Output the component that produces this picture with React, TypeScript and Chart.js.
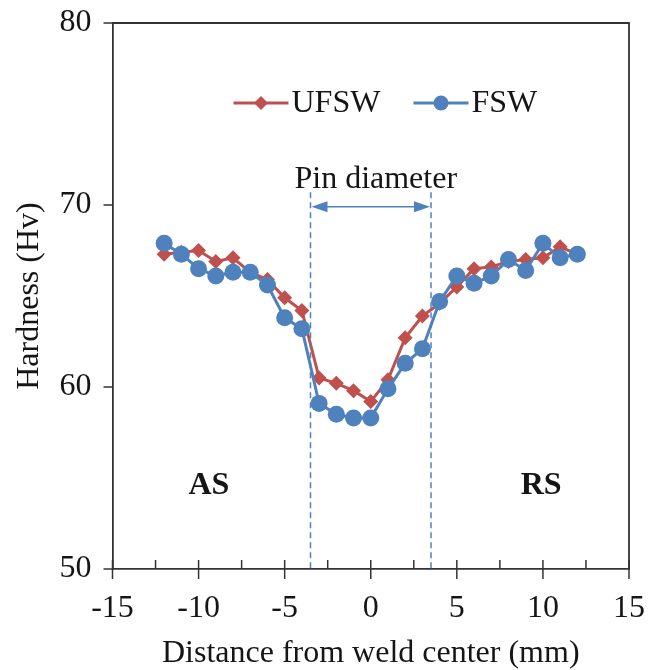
import React, { useEffect, useRef } from "react";
import { Chart, registerables } from "chart.js";

Chart.register(...registerables);

const distances = [-12, -11, -10, -9, -8, -7, -6, -5, -4, -3, -2, -1, 0, 1, 2, 3, 4, 5, 6, 7, 8, 9, 10, 11, 12];
const ufswHardness = [67.3, 67.4, 67.5, 66.9, 67.1, 66.3, 65.9, 64.9, 64.2, 60.5, 60.2, 59.8, 59.2, 60.4, 62.7, 63.9, 64.6, 65.5, 66.5, 66.6, 66.9, 67.0, 67.1, 67.7, 67.3];
const fswHardness = [67.9, 67.3, 66.5, 66.1, 66.3, 66.3, 65.6, 63.8, 63.2, 59.1, 58.5, 58.3, 58.3, 59.9, 61.3, 62.1, 64.7, 66.1, 65.7, 66.1, 67.0, 66.4, 67.9, 67.1, 67.3];
const xMajorTicks = [-15, -10, -5, 0, 5, 10, 15];
const xMinorTicks = [-12.5, -7.5, -2.5, 2.5, 7.5, 12.5];
const yTicks = [50, 60, 70, 80];
const pinEdges = [-3.5, 3.5];
const pinLineTop = 70.7;
const pinArrowY = 69.9;
const seriesNames = ["UFSW", "FSW"];
const regionLabels = [{ text: "AS", x: -9.4, y: 54.6 }, { text: "RS", x: 9.9, y: 54.6 }];

const RED = "#C0504D";
const BLUE = "#4F81BD";
const AXIS = "#333333";
const TEXT = "#151515";
const FONT = "'Liberation Serif', 'Times New Roman', serif";
const FS = 32;

const overlayPlugin = {
  id: "overlay",
  afterDraw(chart: any) {
    const ctx = chart.ctx as CanvasRenderingContext2D;
    const area = chart.chartArea;
    const xs = chart.scales.x;
    const ys = chart.scales.y;
    ctx.save();
    ctx.strokeStyle = AXIS;
    ctx.lineWidth = 1.8;
    ctx.beginPath();
    ctx.moveTo(area.left, area.top);
    ctx.lineTo(area.right, area.top);
    ctx.lineTo(area.right, area.bottom);
    ctx.stroke();
    ctx.lineWidth = 1.5;
    for (const v of xMajorTicks) {
      const px = xs.getPixelForValue(v);
      ctx.beginPath();
      ctx.moveTo(px, area.bottom - 9);
      ctx.lineTo(px, area.bottom + 10);
      ctx.stroke();
    }
    for (const v of xMinorTicks) {
      const px = xs.getPixelForValue(v);
      ctx.beginPath();
      ctx.moveTo(px, area.bottom - 9);
      ctx.lineTo(px, area.bottom);
      ctx.stroke();
    }
    for (const v of yTicks) {
      const py = ys.getPixelForValue(v);
      ctx.beginPath();
      ctx.moveTo(area.left - 9, py);
      ctx.lineTo(area.left, py);
      ctx.stroke();
    }
    ctx.strokeStyle = BLUE;
    ctx.lineWidth = 1.5;
    ctx.setLineDash([6, 4]);
    const topPy = ys.getPixelForValue(pinLineTop);
    for (const v of pinEdges) {
      const px = xs.getPixelForValue(v);
      ctx.beginPath();
      ctx.moveTo(px, topPy);
      ctx.lineTo(px, area.bottom);
      ctx.stroke();
    }
    ctx.setLineDash([]);
    const ax1 = xs.getPixelForValue(pinEdges[0]) + 1;
    const ax2 = xs.getPixelForValue(pinEdges[1]) - 1;
    const ay = ys.getPixelForValue(pinArrowY);
    ctx.beginPath();
    ctx.moveTo(ax1 + 10, ay);
    ctx.lineTo(ax2 - 10, ay);
    ctx.stroke();
    ctx.fillStyle = BLUE;
    ctx.beginPath();
    ctx.moveTo(ax1, ay);
    ctx.lineTo(ax1 + 16, ay - 5.5);
    ctx.lineTo(ax1 + 16, ay + 5.5);
    ctx.closePath();
    ctx.fill();
    ctx.beginPath();
    ctx.moveTo(ax2, ay);
    ctx.lineTo(ax2 - 16, ay - 5.5);
    ctx.lineTo(ax2 - 16, ay + 5.5);
    ctx.closePath();
    ctx.fill();
    ctx.fillStyle = TEXT;
    ctx.font = `${FS}px ${FONT}`;
    ctx.textAlign = "center";
    ctx.textBaseline = "middle";
    ctx.fillText("Pin diameter", (ax1 + ax2) / 2 + 5, ay - 27);
    ctx.font = `bold ${FS}px ${FONT}`;
    for (const r of regionLabels) {
      ctx.fillText(r.text, xs.getPixelForValue(r.x), ys.getPixelForValue(r.y));
    }
    const ly = area.top + 80;
    const items = [
      { name: seriesNames[0], color: RED, x0: area.left + 121, marker: "diamond" },
      { name: seriesNames[1], color: BLUE, x0: area.left + 301, marker: "circle" },
    ];
    for (const it of items) {
      ctx.strokeStyle = it.color;
      ctx.fillStyle = it.color;
      ctx.lineWidth = 3;
      ctx.beginPath();
      ctx.moveTo(it.x0, ly);
      ctx.lineTo(it.x0 + 55, ly);
      ctx.stroke();
      const cx = it.x0 + 27.5;
      ctx.beginPath();
      if (it.marker === "diamond") {
        ctx.moveTo(cx, ly - 7);
        ctx.lineTo(cx + 7, ly);
        ctx.lineTo(cx, ly + 7);
        ctx.lineTo(cx - 7, ly);
        ctx.closePath();
      } else {
        ctx.arc(cx, ly, 7.5, 0, Math.PI * 2);
      }
      ctx.fill();
      ctx.fillStyle = TEXT;
      ctx.font = `${FS}px ${FONT}`;
      ctx.textAlign = "left";
      ctx.textBaseline = "middle";
      ctx.fillText(it.name, it.x0 + 58, ly + 1);
    }
    ctx.restore();
  },
};

export default function App() {
  const ref = useRef<HTMLCanvasElement | null>(null);
  useEffect(() => {
    if (!ref.current) return;
    const chart = new Chart(ref.current, {
      type: "line",
      data: {
        datasets: [
          {
            label: seriesNames[0],
            data: distances.map((x, i) => ({ x, y: ufswHardness[i] })),
            borderColor: RED,
            backgroundColor: RED,
            borderWidth: 3,
            pointStyle: "rectRot",
            pointRadius: 7.5,
            pointBorderWidth: 0,
            order: 2,
            tension: 0,
          },
          {
            label: seriesNames[1],
            data: distances.map((x, i) => ({ x, y: fswHardness[i] })),
            borderColor: BLUE,
            backgroundColor: BLUE,
            borderWidth: 3,
            pointStyle: "circle",
            pointRadius: 8.5,
            pointBorderWidth: 0,
            order: 1,
            tension: 0,
          },
        ],
      },
      options: {
        animation: false,
        responsive: false,
        layout: { padding: { top: 23, right: 28, left: 0, bottom: 0 } },
        plugins: { legend: { display: false }, tooltip: { enabled: false } },
        scales: {
          x: {
            type: "linear",
            min: -15,
            max: 15,
            grid: { display: false },
            border: { display: true, color: AXIS, width: 1.8 },
            afterBuildTicks: (s: any) => {
              s.ticks = xMajorTicks.map((v) => ({ value: v }));
            },
            afterFit: (s: any) => {
              s.height = 670 - 569;
              s.paddingLeft = 0;
              s.paddingRight = 0;
            },
            ticks: { padding: 12, color: TEXT, font: { family: FONT, size: FS }, maxRotation: 0 },
            title: {
              display: true,
              text: "Distance from weld center (mm)",
              color: TEXT,
              font: { family: FONT, size: FS, lineHeight: 1.0 },
              padding: { top: 0, bottom: 0 },
            },
          },
          y: {
            type: "linear",
            min: 50,
            max: 80,
            grid: { display: false },
            border: { display: true, color: AXIS, width: 1.8 },
            afterBuildTicks: (s: any) => {
              s.ticks = yTicks.map((v) => ({ value: v }));
            },
            afterFit: (s: any) => {
              s.width = 112.5;
              s.paddingTop = 0;
              s.paddingBottom = 0;
            },
            ticks: { padding: 13, color: TEXT, font: { family: FONT, size: FS } },
            title: {
              display: true,
              text: "Hardness (Hv)",
              color: TEXT,
              font: { family: FONT, size: FS, lineHeight: 1.2 },
              padding: { top: 10, bottom: 0 },
            },
          },
        },
      },
      plugins: [overlayPlugin],
    } as any);
    return () => chart.destroy();
  }, []);
  return (
    <div style={{ position: "fixed", left: 0, top: 0, width: 657, height: 670, background: "#fff" }}>
      <canvas ref={ref} width={657} height={670} style={{ width: 657, height: 670, display: "block" }} />
    </div>
  );
}
